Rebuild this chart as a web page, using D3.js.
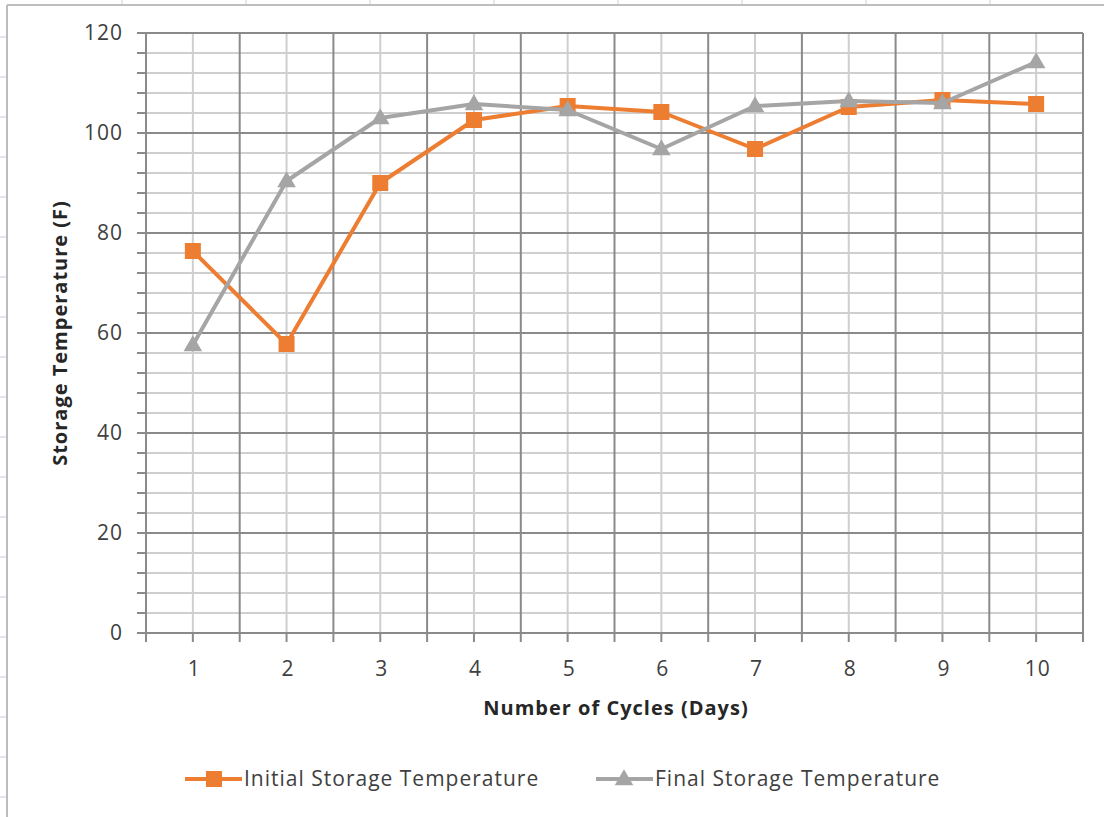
<!DOCTYPE html>
<html>
<head>
<meta charset="utf-8">
<script src="https://cdn.jsdelivr.net/npm/d3@7/dist/d3.min.js"></script>
<style>
  html, body { margin: 0; padding: 0; background: #fff; }
  svg { display: block; }
  text { font-family: "Open Sans", Lato, sans-serif; fill: #404040; }
</style>
</head>
<body>
<script>
// Storage temperature over the number of cycles
const cycles = ["1", "2", "3", "4", "5", "6", "7", "8", "9", "10"];
const initialTemp = [76.4, 57.8, 90, 102.6, 105.4, 104.2, 96.8, 105.2, 106.6, 105.8];
const finalTemp = [57.6, 90.4, 103, 105.8, 104.6, 96.8, 105.4, 106.4, 106, 114.2];
const yTicks = [0, 20, 40, 60, 80, 100, 120];
const seriesNames = ["Initial Storage Temperature", "Final Storage Temperature"];

const W = 1104, H = 817;
const plot = { left: 146, right: 1083, top: 33, bottom: 633 };

const svg = d3.select("body").append("svg").attr("width", W).attr("height", H);

// Sheet gridline stubs around the chart object
const stubs = svg.append("g").attr("stroke", "#c5cde0").attr("stroke-width", 1);
d3.range(37, H, 40).forEach(y => stubs.append("line").attr("x1", 0).attr("x2", 6).attr("y1", y).attr("y2", y));
d3.range(122, W, 124).forEach(x => stubs.append("line").attr("x1", x).attr("x2", x).attr("y1", 0).attr("y2", 4));

// Chart frame
svg.append("line").attr("x1", 7).attr("x2", W).attr("y1", 5).attr("y2", 5).attr("stroke", "#bdbdbd").attr("stroke-width", 2);
svg.append("line").attr("x1", 7).attr("x2", 7).attr("y1", 5).attr("y2", H).attr("stroke", "#bdbdbd").attr("stroke-width", 2);

const x = d3.scalePoint().domain(cycles).range([plot.left, plot.right]).padding(0.5);
const step = x.step();
const y = d3.scaleLinear().domain([0, 120]).range([plot.bottom, plot.top]);

const minorY = d3.range(0, 121, 4);
const majorColor = "#8a8a8a", minorColor = "#cfcfcf";

const grid = svg.append("g");
// minor horizontal lines
grid.selectAll(".hmin").data(minorY.filter(v => v % 20 !== 0)).join("line")
  .attr("x1", plot.left).attr("x2", plot.right)
  .attr("y1", d => y(d)).attr("y2", d => y(d))
  .attr("stroke", minorColor).attr("stroke-width", 2);
// vertical lines through category centres
grid.selectAll(".vmin").data(cycles).join("line")
  .attr("x1", d => x(d)).attr("x2", d => x(d))
  .attr("y1", plot.top).attr("y2", plot.bottom)
  .attr("stroke", minorColor).attr("stroke-width", 2);
// major horizontal lines
grid.selectAll(".hmaj").data(yTicks).join("line")
  .attr("x1", plot.left).attr("x2", plot.right)
  .attr("y1", d => y(d)).attr("y2", d => y(d))
  .attr("stroke", majorColor).attr("stroke-width", 2);
// category boundaries
const bounds = d3.range(cycles.length + 1).map(i => plot.left + i * step);
grid.selectAll(".vmaj").data(bounds).join("line")
  .attr("x1", d => d).attr("x2", d => d)
  .attr("y1", plot.top).attr("y2", plot.bottom)
  .attr("stroke", majorColor).attr("stroke-width", 2);

// Y axis ticks (every minor unit) and labels
const yAxisG = svg.append("g");
yAxisG.selectAll("line").data(minorY).join("line")
  .attr("x1", plot.left - 9).attr("x2", plot.left)
  .attr("y1", d => y(d)).attr("y2", d => y(d))
  .attr("stroke", majorColor).attr("stroke-width", 2);
yAxisG.selectAll("text").data(yTicks).join("text")
  .attr("x", 123).attr("y", d => y(d)).attr("dy", "0.35em")
  .attr("text-anchor", "end").attr("font-size", 21).attr("letter-spacing", 1).text(d => d);

// X axis ticks at boundaries and centres, and labels
const xTickPos = bounds.concat(cycles.map(c => x(c)));
const xAxisG = svg.append("g");
xAxisG.selectAll("line").data(xTickPos).join("line")
  .attr("x1", d => d).attr("x2", d => d)
  .attr("y1", plot.bottom).attr("y2", plot.bottom + 9)
  .attr("stroke", majorColor).attr("stroke-width", 2);
xAxisG.selectAll("text").data(cycles).join("text")
  .attr("x", d => x(d) + 1.5).attr("y", 669).attr("dy", "0.35em")
  .attr("text-anchor", "middle").attr("font-size", 21).attr("letter-spacing", 1).text(d => d);

// Axis titles
svg.append("text").attr("x", 616).attr("y", 708).attr("dy", "0.35em")
  .attr("text-anchor", "middle").attr("font-size", 20).attr("font-weight", "bold")
  .attr("letter-spacing", 1).style("fill", "#262626")
  .text("Number of Cycles (Days)");
svg.append("text").attr("transform", "translate(60,333) rotate(-90)").attr("dy", "0.35em")
  .attr("text-anchor", "middle").attr("font-size", 20).attr("font-weight", "bold")
  .attr("letter-spacing", 1).style("fill", "#262626")
  .text("Storage Temperature (F)");

// Series
const orange = "#ED7D31", gray = "#A5A5A5";
const line = vals => d3.line().x((d, i) => x(cycles[i])).y(d => y(d))(vals);
const tri = d3.symbol().type(d3.symbolTriangle).size(150);

function drawSeries(vals, color, marker) {
  const g = svg.append("g");
  g.append("path").attr("d", line(vals)).attr("fill", "none")
    .attr("stroke", color).attr("stroke-width", 4).attr("stroke-linejoin", "round");
  if (marker === "square") {
    g.selectAll("rect").data(vals).join("rect")
      .attr("x", (d, i) => x(cycles[i]) - 8).attr("y", d => y(d) - 8)
      .attr("width", 16).attr("height", 16).attr("fill", color);
  } else {
    g.selectAll("path.m").data(vals).join("path").attr("class", "m")
      .attr("transform", (d, i) => `translate(${x(cycles[i])},${y(d) + 1})`)
      .attr("d", tri).attr("fill", color);
  }
}
drawSeries(initialTemp, orange, "square");
drawSeries(finalTemp, gray, "triangle");

// Legend
const legend = svg.append("g").attr("transform", "translate(0,779)");
const items = [
  { name: seriesNames[0], color: orange, marker: "square", x0: 185 },
  { name: seriesNames[1], color: gray, marker: "triangle", x0: 596 }
];
items.forEach(it => {
  legend.append("line").attr("x1", it.x0).attr("x2", it.x0 + 57).attr("y1", 0).attr("y2", 0)
    .attr("stroke", it.color).attr("stroke-width", 4);
  if (it.marker === "square") {
    legend.append("rect").attr("x", it.x0 + 21).attr("y", -8).attr("width", 16).attr("height", 16).attr("fill", it.color);
  } else {
    legend.append("path").attr("transform", `translate(${it.x0 + 28},1)`).attr("d", tri).attr("fill", it.color);
  }
  legend.append("text").attr("x", it.x0 + 59).attr("y", 0).attr("dy", "0.35em")
    .attr("font-size", 21).attr("letter-spacing", 1).text(it.name);
});
</script>
</body>
</html>
